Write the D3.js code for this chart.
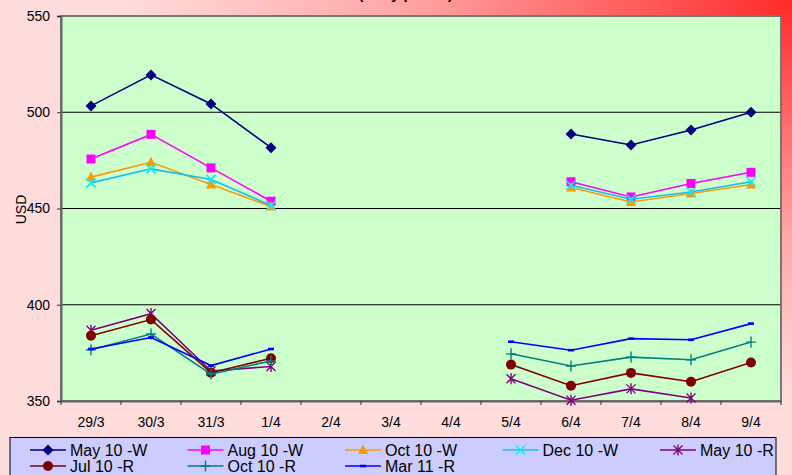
<!DOCTYPE html>
<html><head><meta charset="utf-8">
<script src="https://cdn.jsdelivr.net/npm/d3@7"></script>
<style>html,body{margin:0;padding:0;overflow:hidden;}svg{display:block;font-family:Arial,"Liberation Sans",sans-serif;}</style>
</head><body><svg id="c" width="792" height="475"></svg>
<script>
const categories = ["29/3","30/3","31/3","1/4","2/4","3/4","4/4","5/4","6/4","7/4","8/4","9/4"];
const may10W = [503.3, 519.4, 504.3, 481.6, null, null, null, null, 488.7, 483.0, 490.8, 500.0];
const aug10W = [475.7, 488.5, 471.1, 453.8, null, null, null, null, 463.9, 456.0, 463.0, 468.8];
const oct10W = [466.3, 474.0, 462.5, 451.0, null, null, null, null, 460.9, 453.4, 457.8, 462.5];
const dec10W = [463.3, 470.6, 465.1, 451.6, null, null, null, null, 462.1, 454.8, 458.6, 463.9];
const may10R = [386.7, 395.4, 365.6, 367.9, null, null, null, 361.6, 350.4, 356.3, 351.6, null];
const jul10R = [383.9, 392.3, 364.7, 372.2, null, null, null, 368.9, 357.9, 364.6, 360.0, 370.0];
const oct10R = [376.6, 384.8, 364.0, 370.8, null, null, null, 374.5, 368.2, 372.8, 371.4, 380.6];
const mar11R = [377.0, 383.0, 368.4, 377.0, null, null, null, 380.8, 376.4, 382.4, 381.8, 390.2];
const yTicks = [350, 400, 450, 500, 550];
const seriesNames = ["May 10 -W","Aug 10 -W","Oct 10 -W","Dec 10 -W","May 10 -R","Jul 10 -R","Oct 10 -R","Mar 11 -R"];
const titleText = "(Daily prices)";
const yLabel = "USD";

const series = [
  {name: seriesNames[0], values: may10W, color: "#000080", mcolor: "#000080", marker: "diamond"},
  {name: seriesNames[1], values: aug10W, color: "#ff00ff", mcolor: "#ff00ff", marker: "square"},
  {name: seriesNames[2], values: oct10W, color: "#ff9900", mcolor: "#ff9900", marker: "triangle"},
  {name: seriesNames[3], values: dec10W, color: "#12bff2", mcolor: "#00f0ff", marker: "x"},
  {name: seriesNames[4], values: may10R, color: "#800080", mcolor: "#800080", marker: "star"},
  {name: seriesNames[5], values: jul10R, color: "#800000", mcolor: "#800000", marker: "circle"},
  {name: seriesNames[6], values: oct10R, color: "#008080", mcolor: "#008080", marker: "plus"},
  {name: seriesNames[7], values: mar11R, color: "#0000ff", mcolor: "#0000ff", marker: "dash"}
];

const svg = d3.select("#c");
const W = 792, H = 475;
const defs = svg.append("defs");
const grad = defs.append("radialGradient").attr("id","bg").attr("cx",1).attr("cy",0).attr("r",1).attr("fx",1).attr("fy",0);
grad.append("stop").attr("offset","0").attr("stop-color","#ff2a2a");
grad.append("stop").attr("offset","0.5").attr("stop-color","#ffa8a8");
grad.append("stop").attr("offset","0.85").attr("stop-color","#ffdcdc");
grad.append("stop").attr("offset","1").attr("stop-color","#ffdddd");
svg.append("rect").attr("width",W).attr("height",H).attr("fill","url(#bg)");

// title (mostly clipped at top, as in the reference)
svg.append("text").attr("x",358.5).attr("y",-1).attr("font-size",15).attr("font-weight","bold").text(titleText);

const m = {left: 61, top: 16, right: 781, bottom: 401};
const x = d3.scaleBand().domain(categories).range([m.left, m.right]);
const y = d3.scaleLinear().domain([350, 550]).range([m.bottom, m.top]);

svg.append("rect").attr("x",m.left).attr("y",m.top).attr("width",m.right-m.left).attr("height",m.bottom-m.top)
  .attr("fill","#ccffcc");

// gridlines
svg.append("g").selectAll("line").data(yTicks.filter(v => v > 350 && v < 550)).join("line")
  .attr("x1",m.left).attr("x2",m.right).attr("y1",d=>y(d)).attr("y2",d=>y(d))
  .attr("stroke","#000").attr("stroke-width",1);

// plot border
svg.append("rect").attr("x",m.left).attr("y",m.top).attr("width",m.right-m.left).attr("height",m.bottom-m.top)
  .attr("fill","none").attr("stroke","#777").attr("stroke-width",2);

// y axis
const yAxis = svg.append("g").attr("transform",`translate(${m.left},0)`)
  .call(d3.axisLeft(y).tickValues(yTicks).tickSize(4).tickPadding(7).tickFormat(d3.format("d")));
yAxis.select(".domain").attr("stroke","#666").attr("stroke-width",2);
yAxis.selectAll(".tick line").attr("stroke","#333");
yAxis.selectAll("text").attr("font-size",14).attr("font-family","Arial,'Liberation Sans',sans-serif").attr("fill","#000");

// x axis
const xAxis = svg.append("g").attr("transform",`translate(0,${m.bottom})`)
  .call(d3.axisBottom(x).tickSize(0).tickPadding(16));
xAxis.select(".domain").attr("stroke","#666").attr("stroke-width",2);
xAxis.selectAll("text").attr("font-size",14).attr("font-family","Arial,'Liberation Sans',sans-serif").attr("fill","#000");
// tick marks at category boundaries
const bounds = categories.map(c => x(c)).concat([x(categories[categories.length-1]) + x.bandwidth()]);
svg.append("g").selectAll("line").data(bounds).join("line")
  .attr("x1",d=>d).attr("x2",d=>d).attr("y1",m.bottom).attr("y2",m.bottom+4)
  .attr("stroke","#333").attr("stroke-width",1);

// y label
svg.append("text").attr("transform",`translate(26,${(m.top+m.bottom)/2 + 1}) rotate(-90)`)
  .attr("text-anchor","middle").attr("font-size",14).text(yLabel);

function drawMarker(g, type, cx, cy, color) {
  const s = g.append("g").attr("transform",`translate(${cx},${cy})`);
  switch (type) {
    case "diamond": s.append("path").attr("d","M0,-5.5L5.5,0L0,5.5L-5.5,0Z").attr("fill",color); break;
    case "square": s.append("rect").attr("x",-4.5).attr("y",-4.5).attr("width",9).attr("height",9).attr("fill",color); break;
    case "triangle": s.append("path").attr("d","M0,-5.5L5,4L-5,4Z").attr("fill",color); break;
    case "circle": s.append("circle").attr("r",5).attr("fill",color); break;
    case "x": s.append("path").attr("d","M-4.5,-4.5L4.5,4.5M4.5,-4.5L-4.5,4.5").attr("stroke",color).attr("stroke-width",1.6); break;
    case "star": s.append("path").attr("d","M-4.5,-4.5L4.5,4.5M4.5,-4.5L-4.5,4.5M0,-5.5L0,5.5").attr("stroke",color).attr("stroke-width",1.4); break;
    case "plus": s.append("path").attr("d","M-5,0L5,0M0,-5.5L0,5.5").attr("stroke",color).attr("stroke-width",1.4); break;
    case "dash": s.append("rect").attr("x",-3).attr("y",-1.3).attr("width",6).attr("height",2.6).attr("fill",color); break;
  }
}

const line = d3.line().defined(d => d.v != null).x(d => x(d.c) + x.bandwidth()/2).y(d => y(d.v));
const plot = svg.append("g");
series.forEach(s => {
  const pts = categories.map((c,i) => ({c, v: s.values[i]}));
  plot.append("path").datum(pts).attr("d", line).attr("fill","none").attr("stroke", s.color).attr("stroke-width",1.6);
  const mg = plot.append("g");
  pts.filter(p => p.v != null).forEach(p => drawMarker(mg, s.marker, x(p.c) + x.bandwidth()/2, y(p.v), s.mcolor));
});

// legend
const lg = svg.append("g");
lg.append("rect").attr("x",10).attr("y",437.5).attr("width",766).attr("height",45)
  .attr("fill","#ccccff").attr("stroke","#000").attr("stroke-width",1);
const colX = [30, 187.5, 345, 502.5, 660];
series.forEach((s,i) => {
  const col = i % 5, row = Math.floor(i / 5);
  const lx = colX[col], ly = 450 + row * 16;
  lg.append("line").attr("x1",lx).attr("x2",lx+36).attr("y1",ly).attr("y2",ly).attr("stroke",s.color).attr("stroke-width",1.6);
  drawMarker(lg, s.marker, lx+18, ly, s.mcolor);
  lg.append("text").attr("x",lx+40).attr("y",ly+6).attr("font-size",16).text(s.name);
});
</script>
</body></html>
